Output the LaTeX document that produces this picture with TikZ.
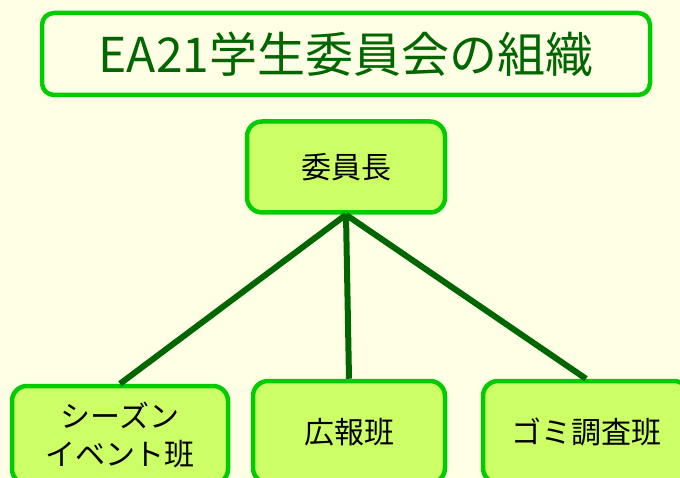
\documentclass[tikz,border=0pt]{standalone}
\usepackage{fontspec}
\setmainfont{Noto Sans CJK JP}
\definecolor{bg}{RGB}{255,255,229}
\definecolor{bordergreen}{RGB}{0,204,0}
\definecolor{boxfill}{RGB}{204,255,102}
\definecolor{darkgr}{RGB}{0,102,0}
\tikzset{
  titlebox/.style={draw=bordergreen, line width=4.5pt, rounded corners=12pt, fill=bg,
    minimum width=608pt, minimum height=82pt, inner sep=0pt, text=darkgr,
    font=\fontsize{48}{52}\selectfont},
  orgbox/.style={draw=bordergreen, line width=4.5pt, rounded corners=15pt, fill=boxfill,
    inner sep=0pt, text=black, align=center, font=\fontsize{30}{38}\selectfont},
  link/.style={draw=darkgr, line width=6pt}
}
\begin{document}
\begin{tikzpicture}[x=1pt,y=-1pt]
  \useasboundingbox (0,0) rectangle (680,478);
  \fill[bg] (0,0) rectangle (680,478);
  \clip (0,0) rectangle (680,478);
  \node[titlebox] (title) at (346,54) {EA21学生委員会の組織};
  \node[orgbox, minimum width=198pt, minimum height=91pt] (chair) at (346,167) {委員長};
  \node[orgbox, minimum width=216pt, minimum height=98pt] (b1) at (120,435) {シーズン\\イベント班};
  \node[orgbox, minimum width=192pt, minimum height=102pt] (b2) at (349,432) {広報班};
  \node[orgbox, minimum width=206pt, minimum height=102pt] (b3) at (586,432) {ゴミ調査班};
  \draw[link] (chair.south) -- (b1.north);
  \draw[link] (chair.south) -- (b2.north);
  \draw[link] (chair.south) -- (b3.north);
\end{tikzpicture}
\end{document}
